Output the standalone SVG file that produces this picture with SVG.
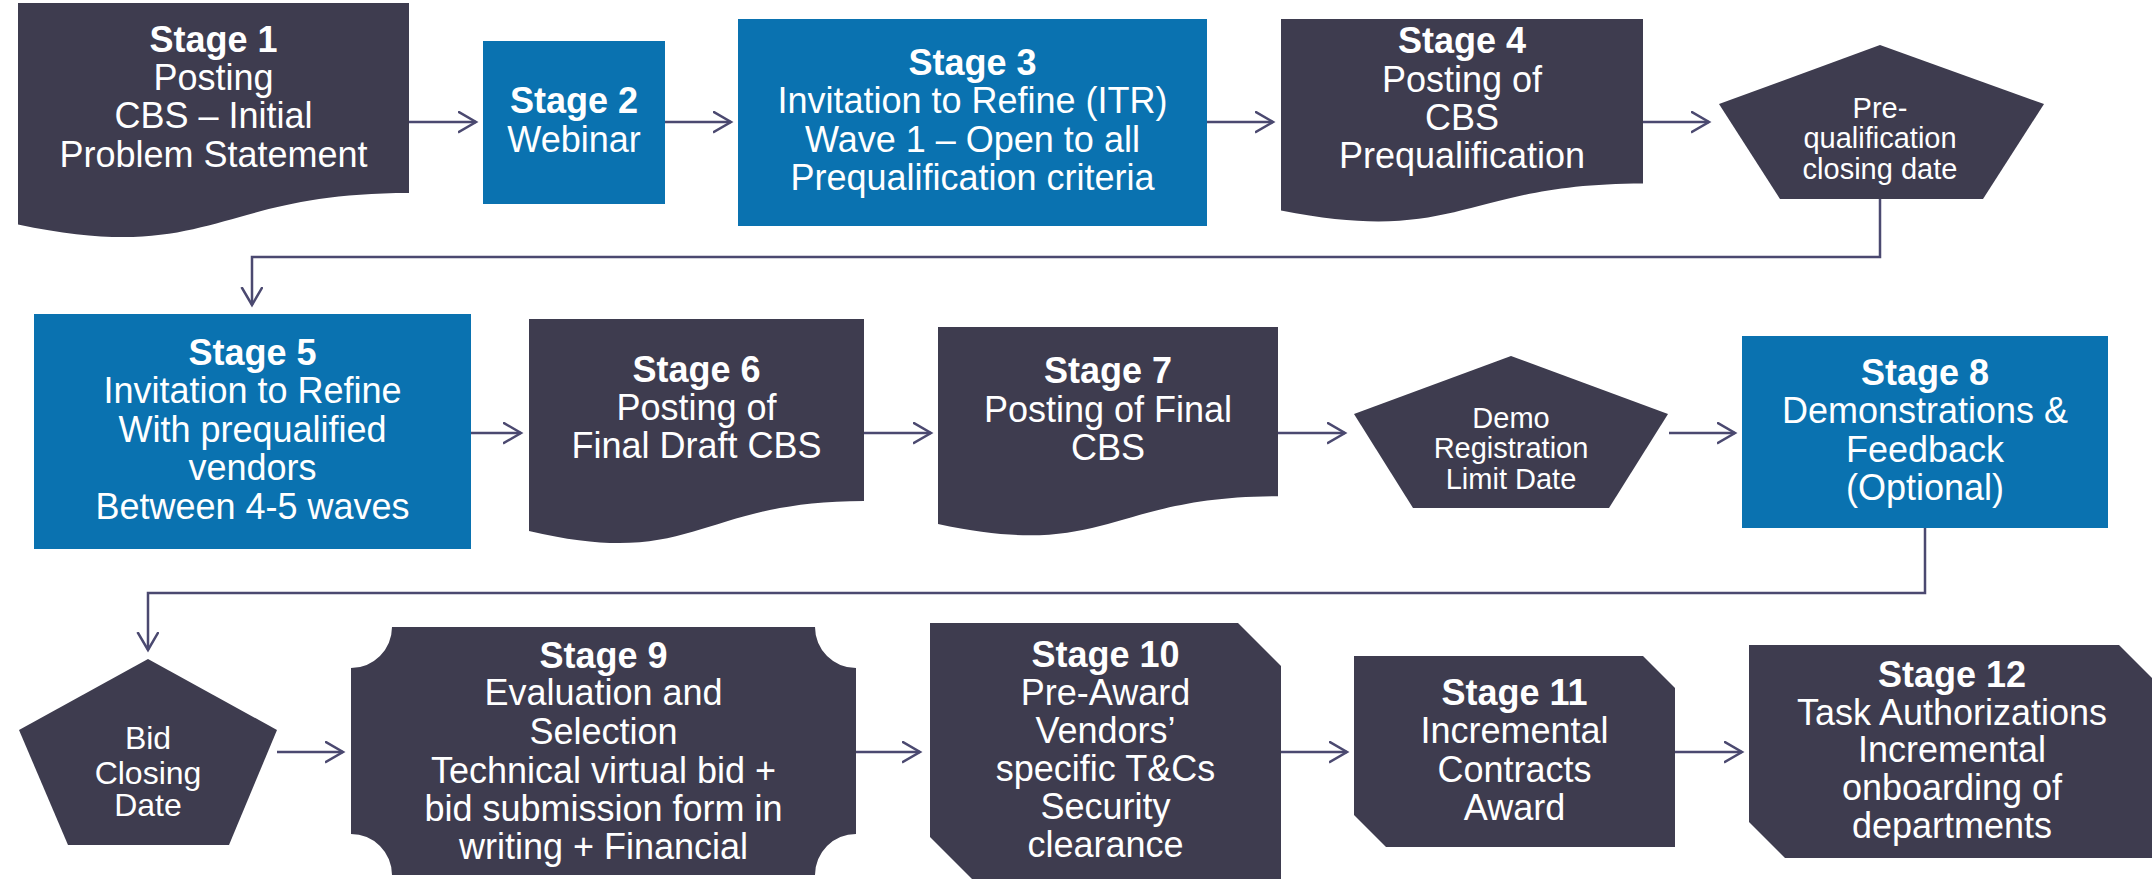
<svg xmlns="http://www.w3.org/2000/svg" width="2152" height="879" viewBox="0 0 2152 879">
<style>
.dark{fill:#3e3c4f}
.blue{fill:#0a72b0}
.t{font-family:"Liberation Sans",Arial,sans-serif;fill:#ffffff;text-anchor:middle;font-size:36px}
.b{font-weight:bold}
.s29{font-size:29px}
.s32{font-size:32px}
.c{fill:none;stroke:#4b4970;stroke-width:2.5}
</style>
<defs>
<marker id="ah" markerUnits="userSpaceOnUse" markerWidth="22" markerHeight="24" refX="18" refY="11" orient="auto">
<path d="M0,0.5 L18,11 L0,21.5" fill="none" stroke="#4b4970" stroke-width="2.5"/>
</marker>
</defs>
<rect width="2152" height="879" fill="#ffffff"/>
<g id="connectors">
<path class="c" d="M409,122 H476" marker-end="url(#ah)"/>
<path class="c" d="M665,122 H731" marker-end="url(#ah)"/>
<path class="c" d="M1207,122 H1273" marker-end="url(#ah)"/>
<path class="c" d="M1643,122 H1709" marker-end="url(#ah)"/>
<path class="c" d="M1880,199 V257 H252 V305" marker-end="url(#ah)"/>
<path class="c" d="M471,433 H521" marker-end="url(#ah)"/>
<path class="c" d="M864,433 H931" marker-end="url(#ah)"/>
<path class="c" d="M1278,433 H1345" marker-end="url(#ah)"/>
<path class="c" d="M1669,433 H1735" marker-end="url(#ah)"/>
<path class="c" d="M1925,528 V593 H148 V650" marker-end="url(#ah)"/>
<path class="c" d="M277,752 H343" marker-end="url(#ah)"/>
<path class="c" d="M856,752 H920" marker-end="url(#ah)"/>
<path class="c" d="M1281,752 H1347" marker-end="url(#ah)"/>
<path class="c" d="M1675,752 H1742" marker-end="url(#ah)"/>
</g>
<g id="stage1">
<path class="dark" d="M18,3 H409 V193.1 C213.5,193.1 213.5,265.5 18,224.4 Z"/>
<text class="t"><tspan class="b" x="213.5" y="52">Stage 1</tspan><tspan x="213.5" y="90">Posting</tspan><tspan x="213.5" y="128">CBS – Initial</tspan><tspan x="213.5" y="167">Problem Statement</tspan></text>
</g>
<g id="stage2">
<rect class="blue" x="483" y="41" width="182" height="163"/>
<text class="t"><tspan class="b" x="574" y="113">Stage 2</tspan><tspan x="574" y="152">Webinar</tspan></text>
</g>
<g id="stage3">
<rect class="blue" x="738" y="19" width="469" height="207"/>
<text class="t"><tspan class="b" x="972.5" y="75">Stage 3</tspan><tspan x="972.5" y="113">Invitation to Refine (ITR)</tspan><tspan x="972.5" y="152">Wave 1 – Open to all</tspan><tspan x="972.5" y="190">Prequalification criteria</tspan></text>
</g>
<g id="stage4">
<path class="dark" d="M1281,19 H1643 V183.4 C1462,183.4 1462,246 1281,210.5 Z"/>
<text class="t"><tspan class="b" x="1462" y="53">Stage 4</tspan><tspan x="1462" y="92">Posting of</tspan><tspan x="1462" y="130">CBS</tspan><tspan x="1462" y="168">Prequalification</tspan></text>
</g>
<g id="prequal-closing">
<polygon class="dark" points="1880,45 2044,104 1983,199 1780,199 1719,104"/>
<text class="t s29"><tspan x="1880" y="118">Pre-</tspan><tspan x="1880" y="148">qualification</tspan><tspan x="1880" y="179">closing date</tspan></text>
</g>
<g id="stage5">
<rect class="blue" x="34" y="314" width="437" height="235"/>
<text class="t"><tspan class="b" x="252.5" y="365">Stage 5</tspan><tspan x="252.5" y="403">Invitation to Refine</tspan><tspan x="252.5" y="442">With prequalified</tspan><tspan x="252.5" y="480">vendors</tspan><tspan x="252.5" y="519">Between 4-5 waves</tspan></text>
</g>
<g id="stage6">
<path class="dark" d="M529,319 H864 V501 C696.5,501 696.5,570.4 529,531 Z"/>
<text class="t"><tspan class="b" x="696.5" y="382">Stage 6</tspan><tspan x="696.5" y="420">Posting of</tspan><tspan x="696.5" y="458">Final Draft CBS</tspan></text>
</g>
<g id="stage7">
<path class="dark" d="M938,327 H1278 V496.2 C1108,496.2 1108,560.7 938,524.1 Z"/>
<text class="t"><tspan class="b" x="1108" y="383">Stage 7</tspan><tspan x="1108" y="422">Posting of Final</tspan><tspan x="1108" y="460">CBS</tspan></text>
</g>
<g id="demo-registration">
<polygon class="dark" points="1511,356 1668,414 1609,508 1413,508 1354,414"/>
<text class="t s29"><tspan x="1511" y="428">Demo</tspan><tspan x="1511" y="458">Registration</tspan><tspan x="1511" y="489">Limit Date</tspan></text>
</g>
<g id="stage8">
<rect class="blue" x="1742" y="336" width="366" height="192"/>
<text class="t"><tspan class="b" x="1925" y="385">Stage 8</tspan><tspan x="1925" y="423">Demonstrations &amp;</tspan><tspan x="1925" y="462">Feedback</tspan><tspan x="1925" y="500">(Optional)</tspan></text>
</g>
<g id="bid-closing">
<polygon class="dark" points="148,659 277,730 229,845 68,845 19,730"/>
<text class="t s32"><tspan x="148" y="749">Bid</tspan><tspan x="148" y="784">Closing</tspan><tspan x="148" y="816">Date</tspan></text>
</g>
<g id="stage9">
<path class="dark" d="M392,627 H815 A41,41 0 0 0 856,668 V834 A41,41 0 0 0 815,875 H392 A41,41 0 0 0 351,834 V668 A41,41 0 0 0 392,627 Z"/>
<text class="t"><tspan class="b" x="603.5" y="668">Stage 9</tspan><tspan x="603.5" y="705">Evaluation and</tspan><tspan x="603.5" y="744">Selection</tspan><tspan x="603.5" y="783">Technical virtual bid +</tspan><tspan x="603.5" y="821">bid submission form in</tspan><tspan x="603.5" y="859">writing + Financial</tspan></text>
</g>
<g id="stage10">
<path class="dark" d="M930,623 H1238 L1281,666 V880 H973 L930,837 Z"/>
<text class="t"><tspan class="b" x="1105.5" y="667">Stage 10</tspan><tspan x="1105.5" y="705">Pre-Award</tspan><tspan x="1105.5" y="743">Vendors’</tspan><tspan x="1105.5" y="781">specific T&amp;Cs</tspan><tspan x="1105.5" y="819">Security</tspan><tspan x="1105.5" y="857">clearance</tspan></text>
</g>
<g id="stage11">
<path class="dark" d="M1354,656 H1643 L1675,688 V847 H1386 L1354,815 Z"/>
<text class="t"><tspan class="b" x="1514.5" y="705">Stage 11</tspan><tspan x="1514.5" y="743">Incremental</tspan><tspan x="1514.5" y="782">Contracts</tspan><tspan x="1514.5" y="820">Award</tspan></text>
</g>
<g id="stage12">
<path class="dark" d="M1749,645 H2119 L2155,681 V858 H1785 L1749,822 Z"/>
<text class="t"><tspan class="b" x="1952" y="687">Stage 12</tspan><tspan x="1952" y="725">Task Authorizations</tspan><tspan x="1952" y="762">Incremental</tspan><tspan x="1952" y="800">onboarding of</tspan><tspan x="1952" y="838">departments</tspan></text>
</g>
</svg>
